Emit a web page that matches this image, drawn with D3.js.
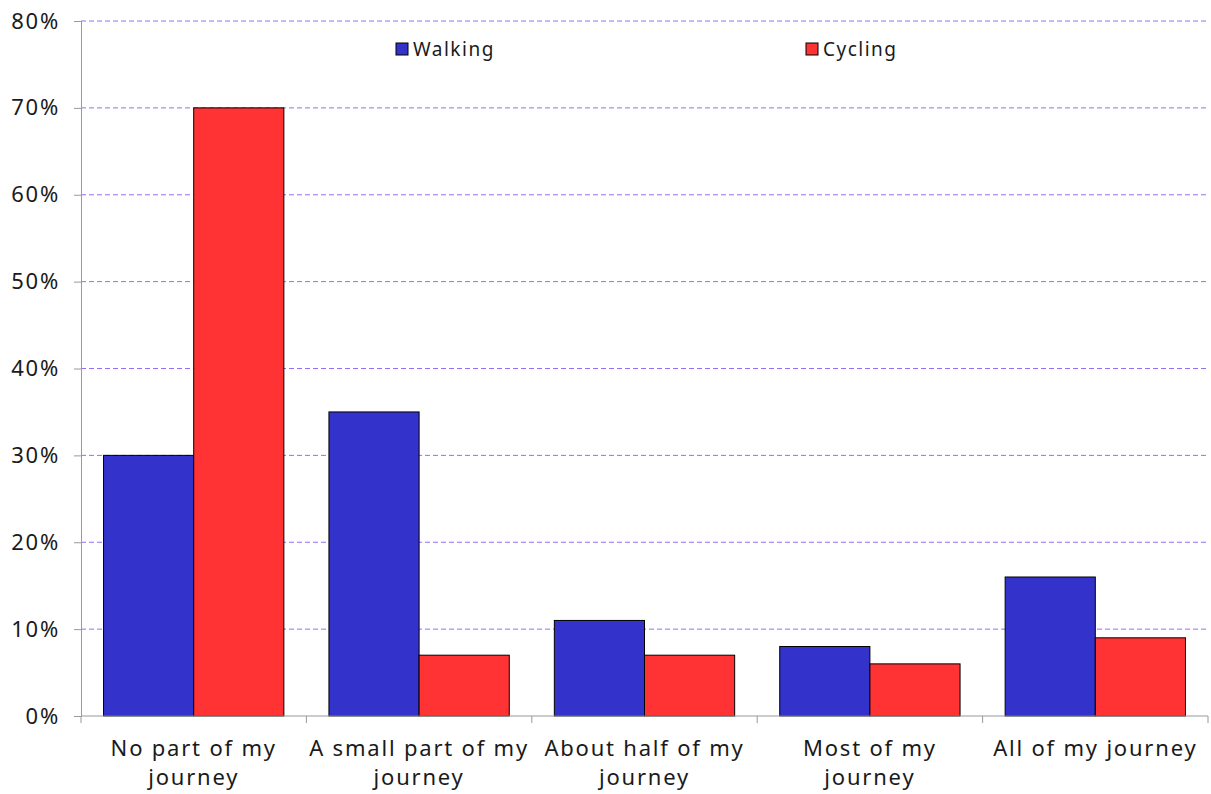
<!DOCTYPE html>
<html>
<head>
<meta charset="utf-8">
<script src="https://cdn.jsdelivr.net/npm/d3@7"></script>
<style>
  body { margin: 0; background: #fff; }
  text { font-family: "Noto Sans", "Open Sans", sans-serif; fill: #1a1a1a; letter-spacing: 1.8px; }
</style>
</head>
<body>
<svg width="1211" height="794"></svg>
<script>
const width = 1211
const height = 794
const margins = { top: 21, bottom: 78, left: 81, right: 3 }

// Data
const categories = ["No part of my journey", "A small part of my journey", "About half of my journey", "Most of my journey", "All of my journey"]
const categoryLines = [["No part of my", "journey"], ["A small part of my", "journey"], ["About half of my", "journey"], ["Most of my", "journey"], ["All of my journey"]]
const walking = [30, 35, 11, 8, 16]
const cycling = [70, 7, 7, 6, 9]
const seriesNames = ["Walking", "Cycling"]
const seriesColors = ["#3333cc", "#ff3333"]
const yTicks = [0, 10, 20, 30, 40, 50, 60, 70, 80]

let svg = d3.select("svg")

// Scales
let xScale = d3.scaleBand()
    .domain(categories)
    .range([margins.left, width - margins.right])
    .paddingInner(0)
    .paddingOuter(0)

let subScale = d3.scaleBand()
    .domain(seriesNames)
    .range([0, xScale.bandwidth()])
    .paddingOuter(0.25)
    .paddingInner(0)

let yScale = d3.scaleLinear()
    .domain([0, 80])
    .range([height - margins.bottom, margins.top])

// Gridlines
svg.append("g")
    .selectAll("line")
    .data(yTicks.filter(d => d > 0))
    .enter()
    .append("line")
    .attr("x1", margins.left)
    .attr("x2", width - margins.right)
    .attr("y1", d => yScale(d))
    .attr("y2", d => yScale(d))
    .attr("stroke", "#9470f0")
    .attr("stroke-width", 1)
    .attr("stroke-dasharray", "5,3")

// Bars
const rows = categories.map((c, i) => ({ cat: c, values: [walking[i], cycling[i]] }))
let groups = svg.append("g")
    .selectAll("g")
    .data(rows)
    .enter()
    .append("g")
    .attr("transform", d => `translate(${xScale(d.cat)},0)`)

groups.selectAll("rect")
    .data(d => d.values.map((v, j) => ({ name: seriesNames[j], value: v, color: seriesColors[j] })))
    .enter()
    .append("rect")
    .attr("x", d => subScale(d.name))
    .attr("width", subScale.bandwidth())
    .attr("y", d => yScale(d.value))
    .attr("height", d => yScale(0) - yScale(d.value))
    .attr("fill", d => d.color)
    .attr("stroke", "#000")
    .attr("stroke-width", 1)

// Y axis
const yAxis = d3.axisLeft(yScale)
    .tickValues(yTicks)
    .tickFormat(d => d + "%")
    .tickSize(7)
    .tickPadding(14)
let yG = svg.append("g")
    .attr("transform", `translate(${margins.left},0)`)
    .call(yAxis)
yG.select(".domain").attr("stroke", "#999")
yG.selectAll(".tick line").attr("stroke", "#999")
yG.selectAll("text").style("font-size", "22px").attr("fill", "#1a1a1a")

// X axis
let xG = svg.append("g")
    .attr("transform", `translate(0,${height - margins.bottom})`)
xG.append("line")
    .attr("x1", margins.left).attr("x2", width - margins.right)
    .attr("stroke", "#999")
xG.selectAll(".tk")
    .data(categories.map(c => xScale(c)).concat([width - margins.right]))
    .enter()
    .append("line")
    .attr("x1", d => d).attr("x2", d => d)
    .attr("y1", 0).attr("y2", 7)
    .attr("stroke", "#999")

// X labels
let labels = xG.selectAll(".lbl")
    .data(categories)
    .enter()
    .append("text")
    .attr("text-anchor", "middle")
    .attr("x", d => xScale(d) + xScale.bandwidth() / 2)
    .attr("y", 40)
    .style("font-size", "22px")
labels.selectAll("tspan")
    .data((d, i) => categoryLines[i])
    .enter()
    .append("tspan")
    .attr("x", function () { return d3.select(this.parentNode).attr("x") })
    .attr("dy", (d, i) => i === 0 ? 0 : 29)
    .text(d => d)

// Legend
const legendX = [396, 806]
let legend = svg.append("g")
    .selectAll("g")
    .data(seriesNames)
    .enter()
    .append("g")
    .attr("transform", (d, i) => `translate(${legendX[i]},43)`)
legend.append("rect")
    .attr("width", 12).attr("height", 12)
    .attr("fill", (d, i) => seriesColors[i])
    .attr("stroke", "#000")
legend.append("text")
    .attr("x", 17).attr("y", 13)
    .style("font-size", "19px")
    .style("letter-spacing", "1.5px")
    .text(d => d)
</script>
</body>
</html>
